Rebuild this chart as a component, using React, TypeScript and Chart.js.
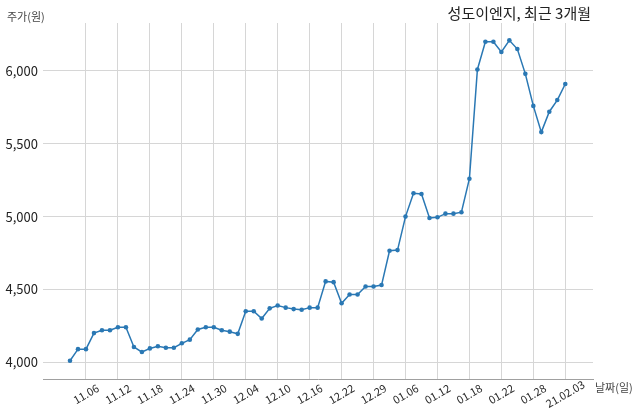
import React, { useEffect, useRef } from "react";
import { Chart, registerables } from "chart.js";

Chart.register(...registerables);

const dates = [
  "11.04", "11.05", "11.06", "11.09", "11.10", "11.11", "11.12", "11.13", "11.16", "11.17",
  "11.18", "11.19", "11.20", "11.23", "11.24", "11.25", "11.26", "11.27", "11.30",
  "12.01", "12.02", "12.03", "12.04", "12.07", "12.08", "12.09", "12.10", "12.11", "12.14",
  "12.15", "12.16", "12.17", "12.18", "12.21", "12.22", "12.23", "12.24", "12.28", "12.29", "12.30",
  "01.04", "01.05", "01.06", "01.07", "01.08", "01.11", "01.12", "01.13", "01.14", "01.15",
  "01.18", "01.19", "01.20", "01.21", "01.22", "01.25", "01.26", "01.27", "01.28", "01.29",
  "02.01", "02.02", "02.03",
];

const prices = [
  4010, 4090, 4090, 4200, 4220, 4220, 4240, 4240, 4105, 4070,
  4095, 4110, 4100, 4100, 4130, 4155, 4225, 4240, 4240,
  4220, 4210, 4195, 4350, 4350, 4300, 4370, 4390, 4375, 4365,
  4360, 4375, 4375, 4555, 4550, 4405, 4465, 4465, 4520, 4520, 4530,
  4765, 4770, 5000, 5160, 5155, 4990, 4995, 5020, 5020, 5030,
  5260, 6010, 6200, 6200, 6130, 6210, 6150, 5980, 5760, 5580,
  5720, 5800, 5910,
];

const tickDates = [
  "11.06", "11.12", "11.18", "11.24", "11.30", "12.04", "12.10", "12.16",
  "12.22", "12.29", "01.06", "01.12", "01.18", "01.22", "01.28", "02.03",
];

const tickLabels = [
  "11.06", "11.12", "11.18", "11.24", "11.30", "12.04", "12.10", "12.16",
  "12.22", "12.29", "01.06", "01.12", "01.18", "01.22", "01.28", "21.02.03",
];

const yTicks = [4000, 4500, 5000, 5500, 6000];

const titleText = "성도이엔지, 최근 3개월";
const yAxisText = "주가(원)";
const xAxisText = "날짜(일)";

const FONT = "'Noto Sans CJK KR', 'Noto Sans', sans-serif";
const LINE_COLOR = "#2a78b4";
const GRID_COLOR = "#d6d6d6";

export default function App() {
  const canvasRef = useRef<HTMLCanvasElement | null>(null);

  useEffect(() => {
    const canvas = canvasRef.current;
    if (!canvas) return;
    const tickPositions = tickDates.map((d) => dates.indexOf(d));

    const textPlugin = {
      id: "textPlugin",
      afterDraw(chart: any) {
        const ctx = chart.ctx as CanvasRenderingContext2D;
        const xScale = chart.scales.x;
        ctx.save();
        // x tick labels
        ctx.fillStyle = "#2a2a2a";
        ctx.font = `11px ${FONT}`;
        ctx.textAlign = "center";
        ctx.textBaseline = "middle";
        tickPositions.forEach((pos, k) => {
          const px = xScale.getPixelForValue(pos);
          ctx.save();
          ctx.translate(px, 394);
          ctx.rotate(-Math.PI / 6);
          ctx.fillText(tickLabels[k], 0, 0);
          ctx.restore();
        });
        // title
        ctx.fillStyle = "#222";
        ctx.font = `15px ${FONT}`;
        ctx.textAlign = "right";
        ctx.textBaseline = "middle";
        ctx.fillText(titleText, 591, 13.5);
        // axis names
        ctx.fillStyle = "#444";
        ctx.font = `11px ${FONT}`;
        ctx.textAlign = "left";
        ctx.fillText(yAxisText, 7, 17);
        ctx.fillText(xAxisText, 595, 388);
        ctx.restore();
      },
    };

    const chart = new Chart(canvas, {
      type: "line",
      data: {
        datasets: [
          {
            data: prices.map((v, i) => ({ x: i, y: v })),
            borderColor: LINE_COLOR,
            backgroundColor: LINE_COLOR,
            borderWidth: 1.5,
            pointRadius: 2.3,
            pointBorderWidth: 0,
            pointHoverRadius: 2.3,
            tension: 0,
            fill: false,
          },
        ],
      },
      options: {
        animation: false,
        responsive: false,
        maintainAspectRatio: false,
        events: [],
        layout: { padding: { left: 0, top: 23, right: 47, bottom: 0 } },
        plugins: {
          legend: { display: false },
          title: { display: false },
          tooltip: { enabled: false },
        },
        scales: {
          x: {
            type: "linear",
            min: -3.38,
            max: 65.47,
            afterBuildTicks: (scale: any) => {
              scale.ticks = tickPositions.map((v) => ({ value: v }));
            },
            afterFit: (scale: any) => {
              scale.height = 40;
            },
            ticks: { display: false },
            grid: { color: GRID_COLOR, lineWidth: 1, drawTicks: false },
            border: { display: true, color: "#a0a0a0", width: 1 },
          },
          y: {
            type: "linear",
            min: 3885,
            max: 6329,
            afterBuildTicks: (scale: any) => {
              scale.ticks = yTicks.map((v) => ({ value: v }));
            },
            afterFit: (scale: any) => {
              scale.width = 43;
            },
            ticks: {
              color: "#222",
              padding: 5,
              font: { family: FONT, size: 13 },
              callback: (v: any) => Number(v).toLocaleString("en-US"),
            },
            grid: { color: GRID_COLOR, lineWidth: 1, drawTicks: false },
            border: { display: false },
          },
        },
      },
      plugins: [textPlugin],
    });

    return () => {
      chart.destroy();
    };
  }, []);

  return (
    <div style={{ position: "fixed", left: 0, top: 0, width: 640, height: 419, background: "#fff" }}>
      <canvas ref={canvasRef} width={640} height={419} style={{ display: "block", width: 640, height: 419 }} />
    </div>
  );
}
